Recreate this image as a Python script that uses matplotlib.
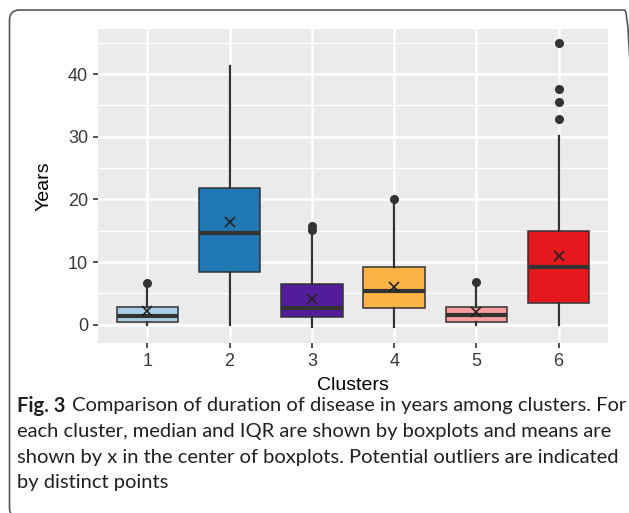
import matplotlib
matplotlib.use("Agg")
import matplotlib.pyplot as plt
import matplotlib.patches as mpatches
from matplotlib.transforms import IdentityTransform
from matplotlib.ticker import MultipleLocator

# Werte (Jahre)
clusters = ["1", "2", "3", "4", "5", "6"]
q1 = [0.4, 8.4, 1.2, 2.7, 0.5, 3.5]
medians = [1.4, 14.7, 2.7, 5.4, 1.5, 9.2]
q3 = [2.8, 21.9, 6.5, 9.2, 2.9, 15.0]
whisk_lo = [0.0, 0.0, -0.4, -0.4, 0.0, 0.0]
whisk_hi = [6.0, 41.3, 14.5, 19.5, 6.0, 30.2]
means = [2.2, 16.4, 4.2, 6.1, 2.1, 11.0]
outliers = [[6.7], [], [15.2, 15.7], [20.0], [6.9], [32.8, 35.6, 37.6, 44.9]]
colors = ["#a9cfe6", "#1f78b4", "#521c9a", "#fdb446", "#f99d9c", "#e3171c"]

fig = plt.figure(figsize=(6.29, 5.13), dpi=100)
ax = fig.add_axes([98 / 629, 1 - 343 / 513, 510 / 629, 314 / 513])

stats = []
for i in range(len(clusters)):
    stats.append(dict(q1=q1[i], med=medians[i], q3=q3[i], whislo=whisk_lo[i],
                      whishi=whisk_hi[i], mean=means[i], fliers=outliers[i],
                      label=clusters[i]))

edge = "#333333"
bp = ax.bxp(stats, positions=range(1, 7), widths=0.75, patch_artist=True,
            showmeans=True, showcaps=False,
            boxprops=dict(edgecolor=edge, linewidth=1.1),
            whiskerprops=dict(color=edge, linewidth=1.6),
            medianprops=dict(color=edge, linewidth=3.0, solid_capstyle="butt"),
            meanprops=dict(marker="x", markeredgecolor="#222222", markersize=7,
                           markeredgewidth=1.2),
            flierprops=dict(marker="o", markerfacecolor=edge, markeredgecolor=edge,
                            markersize=5.5))
for patch, c in zip(bp["boxes"], colors):
    patch.set_facecolor(c)

ax.set_xlim(0.4, 6.6)
ax.set_ylim(-2.9, 47.2)
ax.set_facecolor("#ebebeb")
ax.yaxis.set_major_locator(MultipleLocator(10))
ax.yaxis.set_minor_locator(MultipleLocator(5))
ax.grid(which="major", color="white", linewidth=1.8)
ax.grid(which="minor", axis="y", color="white", linewidth=0.9)
ax.set_axisbelow(True)
for s in ax.spines.values():
    s.set_visible(False)

ax.tick_params(which="major", length=3.6, width=1.2, color="#333333",
               labelcolor="#3a3a3a", labelsize=13, pad=3.5)
ax.tick_params(which="minor", length=0)
for lab in ax.get_xticklabels() + ax.get_yticklabels():
    lab.set_family("Liberation Sans")

ax.set_xlabel("Clusters", fontsize=14, family="Liberation Sans", labelpad=5)
ax.set_ylabel("Years", fontsize=14, family="Liberation Sans", labelpad=11)

# Rahmen mit runden Ecken
frame = mpatches.FancyBboxPatch((9.5, -5), 625, 508, boxstyle="round,pad=0,rounding_size=10",
                                transform=IdentityTransform(), facecolor="none",
                                edgecolor="#555555", linewidth=1.2)
fig.add_artist(frame)

# Bildunterschrift
cap_font = "Lato"
cap_size = 14.5
cap_col = "#231f20"
lines = ["each cluster, median and IQR are shown by boxplots and means are",
         "shown by x in the center of boxplots. Potential outliers are indicated",
         "by distinct points"]
x0 = 17 / 629
base = [411.5, 437, 462.5, 488]
t = fig.text(x0, 1 - base[0] / 513, "Fig. 3", fontsize=cap_size, family=cap_font,
             fontweight="bold", color=cap_col, va="baseline")
fig.canvas.draw()
bb = t.get_window_extent()
fig.text((bb.x1 + 7) / 629, 1 - base[0] / 513,
         "Comparison of duration of disease in years among clusters. For",
         fontsize=cap_size, family=cap_font, color=cap_col, va="baseline")
for i, line in enumerate(lines):
    fig.text(x0, 1 - base[i + 1] / 513, line, fontsize=cap_size, family=cap_font,
             color=cap_col, va="baseline")

fig.savefig("out.png", dpi=100)
